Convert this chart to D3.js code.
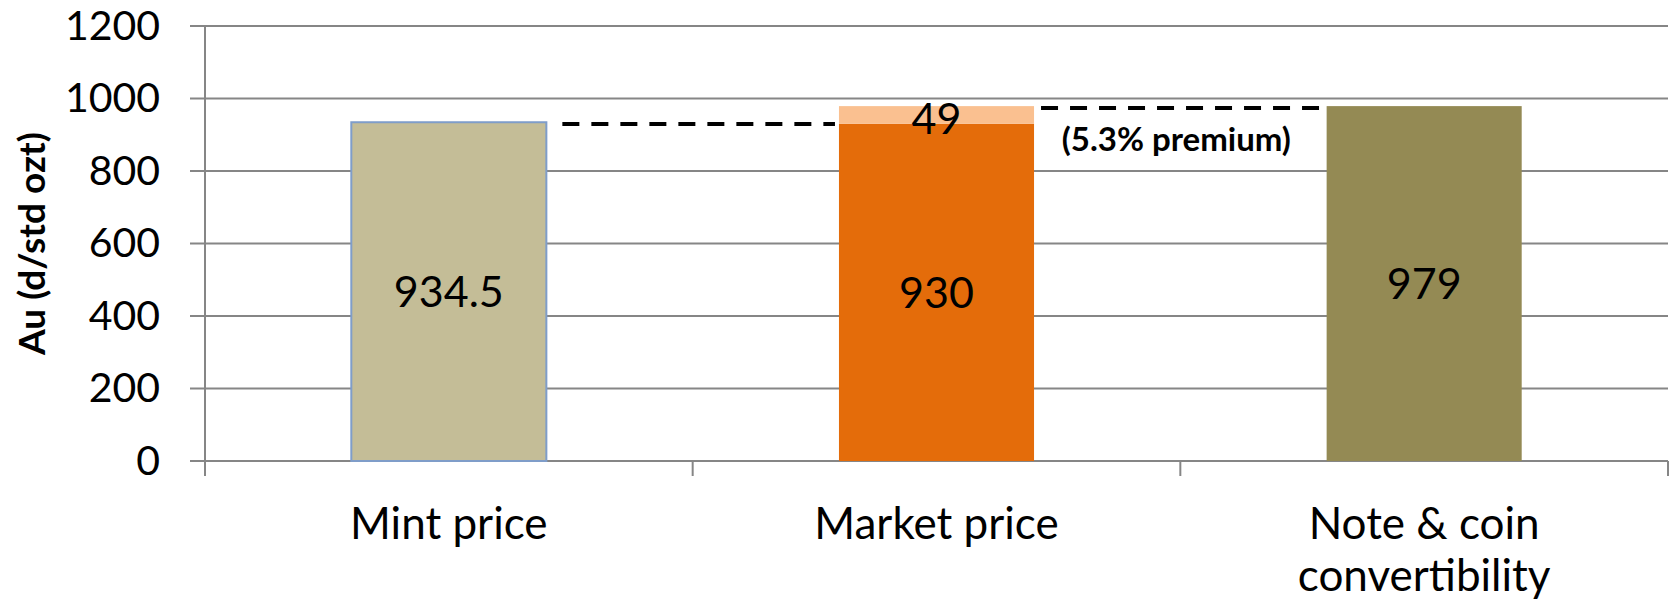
<!DOCTYPE html>
<html>
<head>
<meta charset="utf-8">
<script src="https://cdn.jsdelivr.net/npm/d3@7/dist/d3.min.js"></script>
<style>
  html, body { margin: 0; padding: 0; background: #fff; }
  svg { display: block; font-family: Lato, "Open Sans", sans-serif; }
</style>
</head>
<body>
<svg id="chart" width="1673" height="604"></svg>
<script>
// Gold price comparison (d per standard ounce)
const categories = ["Mint price", "Market price", "Note & coin convertibility"];
const categoryLines = [["Mint price"], ["Market price"], ["Note & coin", "convertibility"]];
const baseValues = [934.5, 930, 979];
const premiumValues = [0, 49, 0];
const baseColors = ["#C4BD97", "#E46C0A", "#948A54"];
const premiumColor = "#FAC090";
const yTicks = [0, 200, 400, 600, 800, 1000, 1200];
const premiumNote = "(5.3% premium)";

const svg = d3.select("#chart");
const margin = { left: 205, right: 5, top: 26, bottom: 143 };
const W = 1673, H = 604;
const plotW = W - margin.left - margin.right;
const plotH = H - margin.top - margin.bottom;

const x = d3.scaleBand().domain(categories).range([0, plotW]).paddingInner(0.6).paddingOuter(0.3);
const y = d3.scaleLinear().domain([0, 1200]).range([plotH, 0]);

const g = svg.append("g").attr("transform", `translate(${margin.left},${margin.top})`);
const gridColor = "#868686";

// horizontal gridlines (extend left past the axis as tick marks)
g.append("g").selectAll("line").data(yTicks).join("line")
  .attr("x1", -15).attr("x2", plotW)
  .attr("y1", d => y(d)).attr("y2", d => y(d))
  .attr("stroke", gridColor).attr("stroke-width", 2);

// y axis labels
const yAxis = d3.axisLeft(y).tickValues(yTicks).tickSize(15).tickPadding(30).tickFormat(d3.format("d"));
const ya = g.append("g").call(yAxis);
ya.select(".domain").remove();
ya.selectAll(".tick line").remove();
ya.selectAll("text").attr("font-size", 41).attr("fill", "#000").attr("font-family", "Lato");

// y axis line
g.append("line").attr("x1", 0).attr("x2", 0).attr("y1", 0).attr("y2", plotH)
  .attr("stroke", gridColor).attr("stroke-width", 2);

// category boundary ticks
const bounds = [0, 1, 2, 3].map(i => i * plotW / 3);
g.append("g").selectAll("line").data(bounds).join("line")
  .attr("x1", d => d).attr("x2", d => d)
  .attr("y1", plotH).attr("y2", plotH + 15)
  .attr("stroke", gridColor).attr("stroke-width", 2);

// base bars
g.append("g").selectAll("rect").data(categories).join("rect")
  .attr("x", d => x(d))
  .attr("y", (d, i) => y(baseValues[i]))
  .attr("width", x.bandwidth())
  .attr("height", (d, i) => y(0) - y(baseValues[i]))
  .attr("fill", (d, i) => baseColors[i])
  .attr("stroke", (d, i) => i === 0 ? "#7F9DC9" : "none")
  .attr("stroke-width", 2);

// premium segments stacked on top
g.append("g").selectAll("rect").data(categories.filter((d, i) => premiumValues[i] > 0)).join("rect")
  .attr("x", d => x(d))
  .attr("y", d => { const i = categories.indexOf(d); return y(baseValues[i] + premiumValues[i]); })
  .attr("width", x.bandwidth())
  .attr("height", d => { const i = categories.indexOf(d); return y(baseValues[i]) - y(baseValues[i] + premiumValues[i]); })
  .attr("fill", premiumColor);

// value labels
g.append("g").selectAll("text").data(categories).join("text")
  .attr("x", d => x(d) + x.bandwidth() / 2)
  .attr("y", (d, i) => y(baseValues[i] / 2))
  .attr("dy", "0.36em")
  .attr("text-anchor", "middle")
  .attr("font-size", 43)
  .text((d, i) => baseValues[i]);

g.append("g").selectAll("text").data(categories.filter((d, i) => premiumValues[i] > 0)).join("text")
  .attr("x", d => x(d) + x.bandwidth() / 2)
  .attr("y", d => { const i = categories.indexOf(d); return y(baseValues[i] + premiumValues[i] / 2); })
  .attr("dy", "0.44em")
  .attr("text-anchor", "middle")
  .attr("font-size", 43)
  .text(d => premiumValues[categories.indexOf(d)]);

// dashed reference lines between bars
const [c0, c1, c2] = categories;
const dash = "17,12";
g.append("line")
  .attr("x1", x(c0) + x.bandwidth() + 16).attr("x2", x(c1) - 4)
  .attr("y1", y(baseValues[1])).attr("y2", y(baseValues[1]))
  .attr("stroke", "#000").attr("stroke-width", 4).attr("stroke-dasharray", dash);
g.append("line")
  .attr("x1", x(c1) + x.bandwidth() + 7).attr("x2", x(c2) - 5)
  .attr("y1", y(baseValues[2]) + 2).attr("y2", y(baseValues[2]) + 2)
  .attr("stroke", "#000").attr("stroke-width", 4).attr("stroke-dasharray", dash);

g.append("text")
  .attr("x", (x(c1) + x.bandwidth() + x(c2)) / 2 - 4)
  .attr("y", y(baseValues[2]) + 33)
  .attr("dy", "0.36em")
  .attr("text-anchor", "middle")
  .attr("font-size", 33).attr("font-weight", 700)
  .text(premiumNote);

// category labels
const cl = g.append("g").selectAll("text").data(categories).join("text")
  .attr("x", d => x(d) + x.bandwidth() / 2)
  .attr("y", plotH + 78)
  .attr("text-anchor", "middle")
  .attr("font-size", 44);
cl.each(function(d, i) {
  d3.select(this).selectAll("tspan").data(categoryLines[i]).join("tspan")
    .attr("x", x(d) + x.bandwidth() / 2)
    .attr("dy", (t, j) => j === 0 ? 0 : 52)
    .text(t => t);
});

// y axis title
svg.append("text")
  .attr("transform", `translate(32,${margin.top + plotH / 2}) rotate(-90)`)
  .attr("dy", "0.36em")
  .attr("text-anchor", "middle")
  .attr("font-size", 37).attr("font-weight", 700)
  .text("Au (d/std ozt)");
</script>
</body>
</html>
